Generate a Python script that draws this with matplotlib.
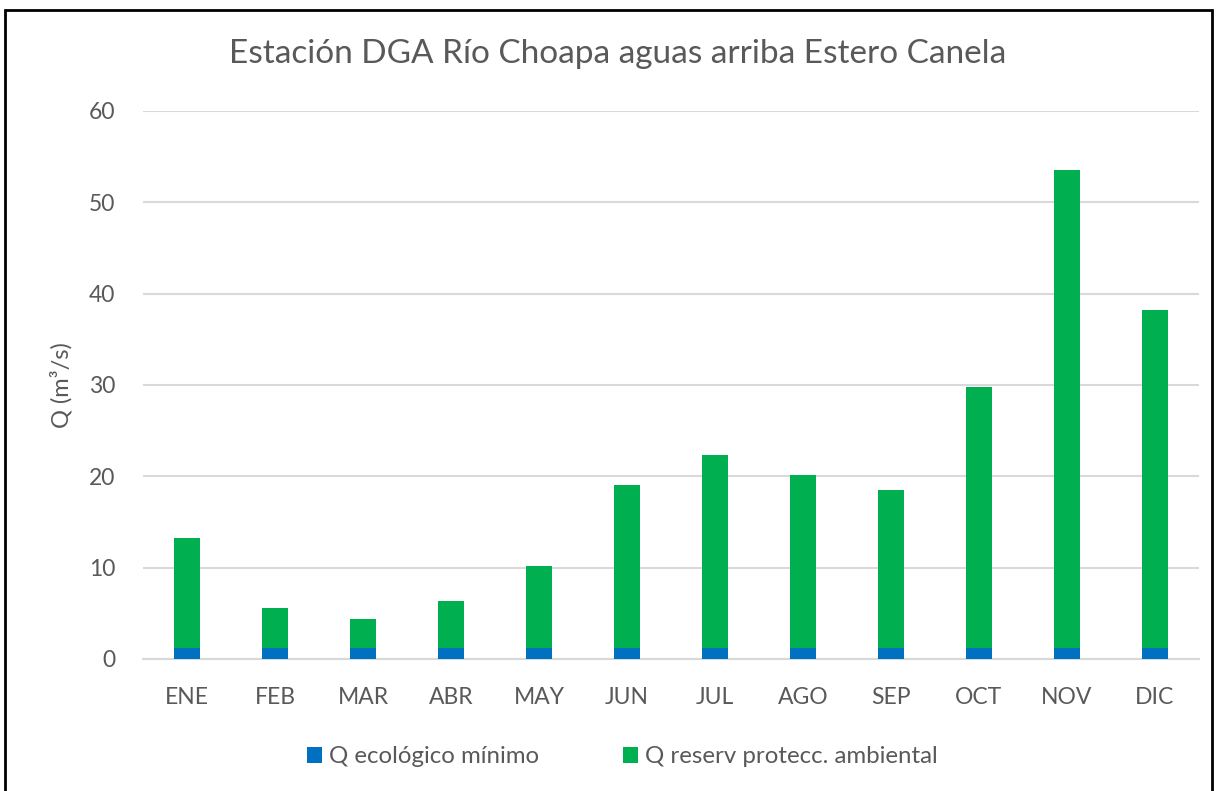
import matplotlib.pyplot as plt
from matplotlib.patches import Rectangle
import numpy as np

# monthly data (m3/s)
meses = ['ENE', 'FEB', 'MAR', 'ABR', 'MAY', 'JUN', 'JUL', 'AGO', 'SEP', 'OCT', 'NOV', 'DIC']
q_ecologico = [1.2, 1.2, 1.2, 1.2, 1.2, 1.2, 1.2, 1.2, 1.2, 1.2, 1.2, 1.2]
q_total = [13.3, 5.6, 4.4, 6.4, 10.2, 19.1, 22.3, 20.1, 18.5, 29.8, 53.5, 38.2]
q_reserva = [t - e for t, e in zip(q_total, q_ecologico)]

azul = '#0070C0'
verde = '#00B050'
gris = '#595959'

plt.rcParams['font.family'] = ['Lato', 'DejaVu Sans']

fig = plt.figure(figsize=(12.16, 7.91), dpi=100)
ax = fig.add_axes([0.1176, 0.1669, 0.9860 - 0.1176, 0.8597 - 0.1669])

x = np.arange(len(meses))
ancho = 0.29
ax.bar(x, q_ecologico, ancho, color=azul, label='Q ecológico mínimo', zorder=3)
ax.bar(x, q_reserva, ancho, bottom=q_ecologico, color=verde,
       label='Q reserv protecc. ambiental', zorder=3)

ax.set_xlim(-0.5, len(meses) - 0.5)
ax.set_ylim(0, 60)
ax.set_yticks(range(0, 61, 10))
ax.set_xticks(x)
ax.set_xticklabels(meses)
ax.grid(axis='y', color='#D9D9D9', linewidth=1.5, zorder=0)
for s in ['top', 'right', 'left']:
    ax.spines[s].set_visible(False)
ax.spines['bottom'].set_color('#D9D9D9')
ax.spines['bottom'].set_linewidth(1.5)
ax.tick_params(axis='both', length=0, labelsize=16.5, labelcolor=gris)
ax.tick_params(axis='x', pad=20)
ax.tick_params(axis='y', pad=20)

ax.set_ylabel('Q (m³/s)', fontsize=17, color=gris, labelpad=12)
fig.text(0.508, 0.932, 'Estación DGA Río Choapa aguas arriba Estero Canela',
         ha='center', va='center', fontsize=24, color=gris)

fig.legend(loc='center', bbox_to_anchor=(0.512, 0.043), ncol=2, frameon=False,
           fontsize=17.3, labelcolor=gris, handlelength=0.6, handleheight=0.6,
           handletextpad=0.3, columnspacing=3.5)

# outer frame
fig.patches.append(Rectangle((5 / 1216, -0.05), (1212 - 5) / 1216, 1 - 10 / 791 + 0.05,
                             transform=fig.transFigure, fill=False,
                             edgecolor='black', linewidth=2))

fig.savefig('out.png', dpi=100)
